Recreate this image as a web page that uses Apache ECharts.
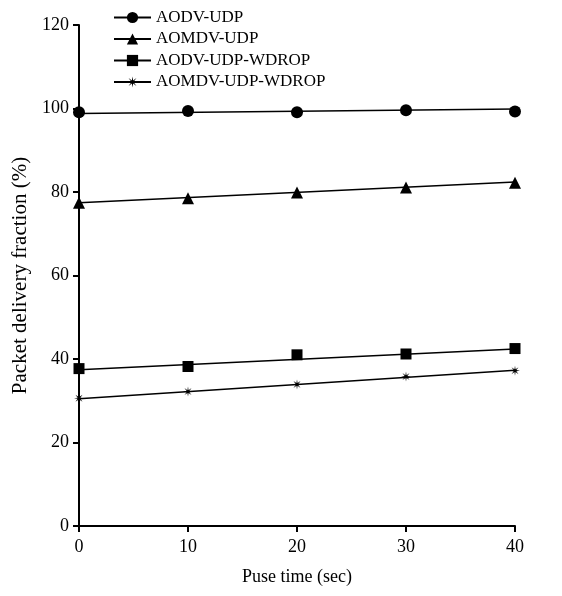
<!DOCTYPE html>
<html>
<head>
<meta charset="utf-8">
<script src="https://cdn.jsdelivr.net/npm/echarts@6/dist/echarts.min.js"></script>
<style>html,body{margin:0;padding:0;background:#fff}#c{width:562px;height:596px}</style>
</head>
<body>
<div id="c"></div>
<script>
// ---- data ----
var pauseTimes = [0, 10, 20, 30, 40];
var xTicks = [0, 10, 20, 30, 40];
var yTicks = [0, 20, 40, 60, 80, 100, 120];
var seriesNames = ['AODV-UDP', 'AOMDV-UDP', 'AODV-UDP-WDROP', 'AOMDV-UDP-WDROP'];
var aodvUdp = [99.1, 99.4, 99.1, 99.6, 99.3];
var aomdvUdp = [77.4, 78.5, 79.9, 81.1, 82.2];
var aodvUdpWdrop = [37.7, 38.2, 41.0, 41.2, 42.5];
var aomdvUdpWdrop = [30.6, 32.2, 33.9, 35.8, 37.2];
// linear trend lines (start at x=0, end at x=40)
var trendX = [0, 40];
var aodvUdpTrend = [98.8, 99.9];
var aomdvUdpTrend = [77.4, 82.4];
var aodvUdpWdropTrend = [37.4, 42.4];
var aomdvUdpWdropTrend = [30.5, 37.3];

// ---- style ----
function starPath() {
  var pts = [];
  for (var k = 0; k < 16; k++) {
    var a = k * Math.PI / 8;
    var r = (k % 2 === 0) ? 10 : 3;
    pts.push((10 + r * Math.sin(a)).toFixed(2) + ',' + (10 - r * Math.cos(a)).toFixed(2));
  }
  return 'path://M' + pts.join(' L') + ' Z';
}
var symbols = ['circle', 'triangle', 'rect', starPath()];
var symbolSizes = [12, 12, 11, 10];
var values = [aodvUdp, aomdvUdp, aodvUdpWdrop, aomdvUdpWdrop];
var trends = [aodvUdpTrend, aomdvUdpTrend, aodvUdpWdropTrend, aomdvUdpWdropTrend];

var series = [];
seriesNames.forEach(function (name, i) {
  series.push({
    name: name, type: 'line',
    data: trendX.map(function (x, j) { return [x, trends[i][j]]; }),
    symbol: symbols[i], symbolSize: symbolSizes[i], showSymbol: false,
    lineStyle: { color: '#000', width: 1.5 },
    itemStyle: { color: '#000' },
    silent: true, z: 2
  });
});
seriesNames.forEach(function (name, i) {
  series.push({
    name: name, type: 'scatter',
    data: pauseTimes.map(function (x, j) { return [x, values[i][j]]; }),
    symbol: symbols[i], symbolSize: symbolSizes[i],
    itemStyle: { color: '#000', opacity: 1 },
    z: 3
  });
});

var font = 'Liberation Serif';
var axisCommon = {
  axisLine: { show: true, lineStyle: { color: '#000', width: 2 } },
  axisTick: { show: true, inside: false, length: 6, lineStyle: { color: '#000', width: 2 } },
  axisLabel: { color: '#000', fontFamily: font, fontSize: 18 },
  splitLine: { show: false },
  nameTextStyle: { color: '#000', fontFamily: font, fontSize: 18 }
};

var chart = echarts.init(document.getElementById('c'), null, { renderer: 'canvas' });
chart.setOption({
  animation: false,
  backgroundColor: '#fff',
  grid: { left: 79, right: 47, top: 25, bottom: 70, containLabel: false },
  legend: {
    data: seriesNames,
    orient: 'vertical',
    left: 108, top: 4,
    itemWidth: 37, itemHeight: 14, itemGap: 4.5,
    textStyle: { color: '#000', fontFamily: font, fontSize: 17 },
    selectedMode: false
  },
  xAxis: Object.assign({}, axisCommon, {
    type: 'value', min: xTicks[0], max: xTicks[xTicks.length - 1], interval: 10,
    name: 'Puse time (sec)', nameLocation: 'middle', nameGap: 42,
    axisLabel: Object.assign({}, axisCommon.axisLabel, { margin: 12 })
  }),
  yAxis: Object.assign({}, axisCommon, {
    type: 'value', min: yTicks[0], max: yTicks[yTicks.length - 1], interval: 20,
    name: 'Packet delivery fraction (%)', nameLocation: 'middle', nameGap: 46,
    nameTextStyle: { color: '#000', fontFamily: font, fontSize: 21 },
    axisLabel: Object.assign({}, axisCommon.axisLabel, { margin: 10 })
  }),
  series: series
});
</script>
</body>
</html>
